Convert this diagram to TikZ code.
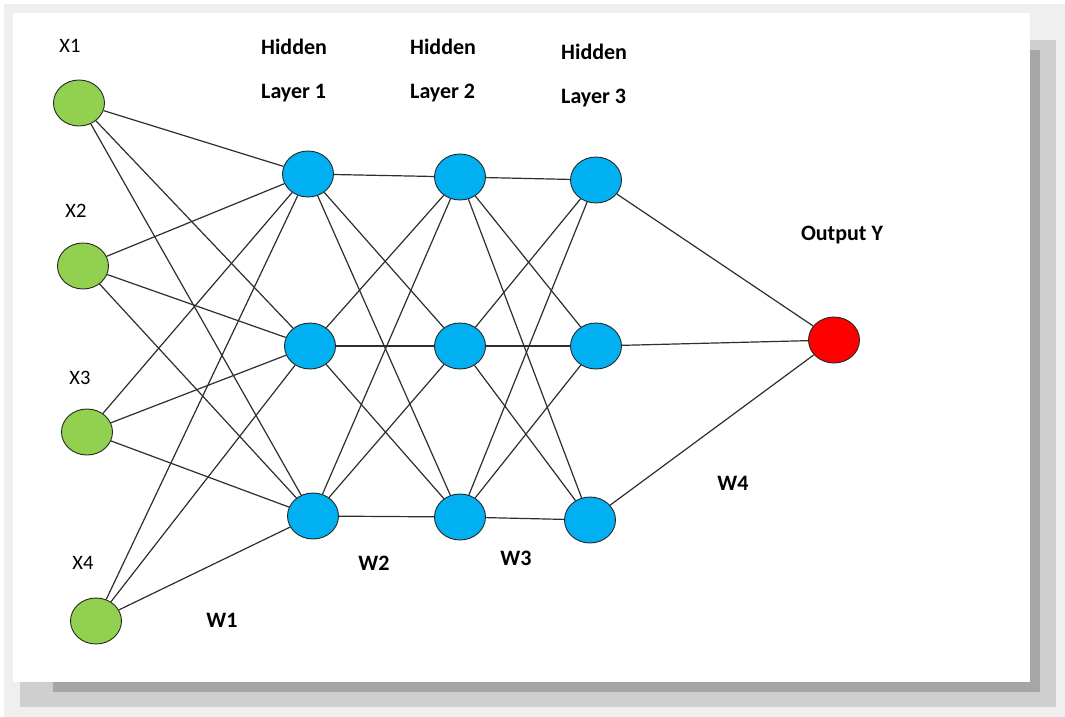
\documentclass[tikz,border=0pt]{standalone}
\usepackage{fontspec}
\setmainfont{Carlito}
\usetikzlibrary{shapes.geometric}
\definecolor{ingreen}{HTML}{92D050}
\definecolor{hidblue}{HTML}{00B0F0}
\definecolor{outred}{HTML}{FF0000}
\definecolor{shadowlight}{HTML}{EFEFEF}
\definecolor{shadowmid}{HTML}{CFCFCF}
\definecolor{shadowdark}{HTML}{A6A6A6}
\begin{document}
\begin{tikzpicture}[x=1pt,y=-1pt,
  neuron/.style={ellipse,draw=black!85,line width=0.9pt,minimum width=51pt,minimum height=46pt,inner sep=0pt},
  inp/.style={neuron,fill=ingreen},
  hid/.style={neuron,fill=hidblue},
  outn/.style={neuron,fill=outred},
  conn/.style={draw=black!82,line width=1.2pt},
  xlbl/.style={font=\fontsize{20.5}{24}\selectfont,inner sep=0pt},
  blbl/.style={font=\bfseries\fontsize{22}{26}\selectfont,inner sep=0pt},
  hlbl/.style={font=\bfseries\fontsize{22}{44}\selectfont,inner sep=0pt,align=left,anchor=west}]
% page and shadow
\useasboundingbox (0,0) rectangle (1065,717);
\fill[white] (0,0) rectangle (1065,717);
\fill[shadowlight] (4,4) rectangle (1065,717);
\fill[shadowmid] (20,40) rectangle (1056,707);
\fill[shadowdark] (53,50) rectangle (1040,692);
\fill[white] (13,13) rectangle (1030,682);
% inputs
\node[inp] (x1) at (79,103) {};
\node[inp] (x2) at (83,266) {};
\node[inp] (x3) at (87,432) {};
\node[inp] (x4) at (96,621) {};
% hidden 1
\node[hid] (a1) at (308,174) {};
\node[hid] (a2) at (310,346) {};
\node[hid] (a3) at (313,516) {};
% hidden 2
\node[hid] (b1) at (460,177) {};
\node[hid] (b2) at (460,346) {};
\node[hid] (b3) at (460,517) {};
% hidden 3
\node[hid] (c1) at (596,180) {};
\node[hid] (c2) at (596,346) {};
\node[hid] (c3) at (590,520) {};
% output
\node[outn] (y) at (834,340) {};
% connectors
\foreach \i in {x1,x2,x3,x4}{\foreach \j in {a1,a2,a3}{\draw[conn] (\i) -- (\j);}}
\foreach \i in {a1,a2,a3}{\foreach \j in {b1,b2,b3}{\draw[conn] (\i) -- (\j);}}
\foreach \i in {b1,b2,b3}{\foreach \j in {c1,c2,c3}{\draw[conn] (\i) -- (\j);}}
\foreach \i in {c1,c2,c3}{\draw[conn] (\i) -- (y);}
% labels
\node[xlbl] (lx1) at (70,46) {X1};
\node[xlbl] (lx2) at (76,211) {X2};
\node[xlbl] (lx3) at (80,378) {X3};
\node[xlbl] (lx4) at (83,563) {X4};
\node[hlbl] (lh1) at (261,71) {Hidden\\Layer 1};
\node[hlbl] (lh2) at (410,71) {Hidden\\Layer 2};
\node[hlbl] (lh3) at (561,75.5) {Hidden\\Layer 3};
\node[blbl] (ly) at (842,235) {Output Y};
\node[blbl] (lw1) at (222,620) {W1};
\node[blbl] (lw2) at (374,563) {W2};
\node[blbl] (lw3) at (516,558) {W3};
\node[blbl] (lw4) at (733,483) {W4};
\end{tikzpicture}
\end{document}
